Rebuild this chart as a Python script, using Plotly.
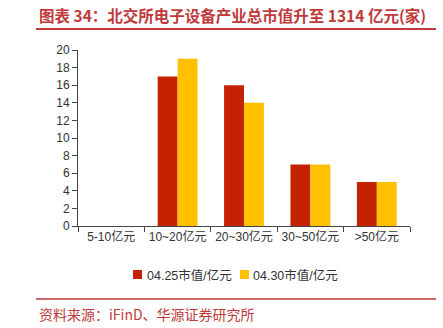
import plotly.graph_objects as go

# Market-value buckets and company counts for the two dates
categories = ["5-10亿元", "10~20亿元", "20~30亿元", "30~50亿元", ">50亿元"]
series_names = ["04.25市值/亿元", "04.30市值/亿元"]
values_0425 = [0, 17, 16, 7, 5]
values_0430 = [0, 19, 14, 7, 5]
y_ticks = [0, 2, 4, 6, 8, 10, 12, 14, 16, 18, 20]

title_text = "图表 34：北交所电子设备产业总市值升至 1314 亿元(家)"
source_text = "资料来源：iFinD、华源证券研究所"

RED = "#C42200"
YELLOW = "#FFC000"
ACCENT = "#C0393B"
FONT = "Liberation Sans, Arial, Noto Sans CJK SC"

W, H = 443, 328
L, R, T, B = 78, 33, 50, 102
pw = W - L - R
ph = H - T - B


def px_x(x):
    return (x - L) / pw


def px_y(y):
    return 1 - (y - T) / ph


fig = go.Figure()
colors = [RED, YELLOW]
for name, vals, col in zip(series_names, [values_0425, values_0430], colors):
    fig.add_trace(go.Bar(x=categories, y=vals, name=name,
                         marker=dict(color=col, line=dict(width=0))))

fig.update_layout(
    width=W, height=H,
    margin=dict(l=L, r=R, t=T, b=B, pad=0),
    paper_bgcolor="white", plot_bgcolor="white",
    barmode="group", bargap=0.4, bargroupgap=0,
    font=dict(family=FONT, size=12, color="#333333"),
    showlegend=False,
)

fig.update_xaxes(
    type="category", tickson="boundaries", ticks="outside", ticklen=5,
    tickcolor="#444444", showline=True, linecolor="#444444", linewidth=1,
    showgrid=False, zeroline=False, tickangle=0,
    tickfont=dict(size=12, color="#333333"),
)
fig.update_yaxes(
    range=[0, 20], tickvals=y_ticks, ticks="outside", ticklen=5,
    tickcolor="#444444", showline=True, linecolor="#444444", linewidth=1,
    showgrid=False, zeroline=False, tickfont=dict(size=12, color="#333333"),
)

# Legend: colour swatch followed by series name
legend_items = [(133, 145), (240, 251)]
for (sx, tx), name, col in zip(legend_items, series_names, colors):
    fig.add_shape(type="rect", xref="paper", yref="paper",
                  x0=px_x(sx), x1=px_x(sx + 9), y0=px_y(270), y1=px_y(279),
                  fillcolor=col, line=dict(width=0))
    fig.add_annotation(text=name, xref="paper", yref="paper",
                       x=px_x(tx), y=px_y(275), xanchor="left", yanchor="middle",
                       showarrow=False, font=dict(size=12.5, color="#333333"))

# Header and source lines
fig.add_shape(type="line", xref="paper", yref="paper",
              x0=px_x(36), x1=px_x(436), y0=px_y(29), y1=px_y(29),
              line=dict(color=ACCENT, width=2))
fig.add_shape(type="line", xref="paper", yref="paper",
              x0=px_x(36), x1=px_x(436), y0=px_y(299), y1=px_y(299),
              line=dict(color=ACCENT, width=1.5))

fig.add_annotation(text=title_text, xref="paper", yref="paper",
                   x=px_x(37), y=px_y(15), xanchor="left", yanchor="middle",
                   showarrow=False,
                   font=dict(family="Noto Sans CJK SC", size=15.5, color=ACCENT, weight="bold"))
fig.add_annotation(text=source_text, xref="paper", yref="paper",
                   x=px_x(37), y=px_y(314), xanchor="left", yanchor="middle",
                   showarrow=False,
                   font=dict(family="Noto Sans CJK SC", size=14, color=ACCENT))

fig.write_html("out.html")
